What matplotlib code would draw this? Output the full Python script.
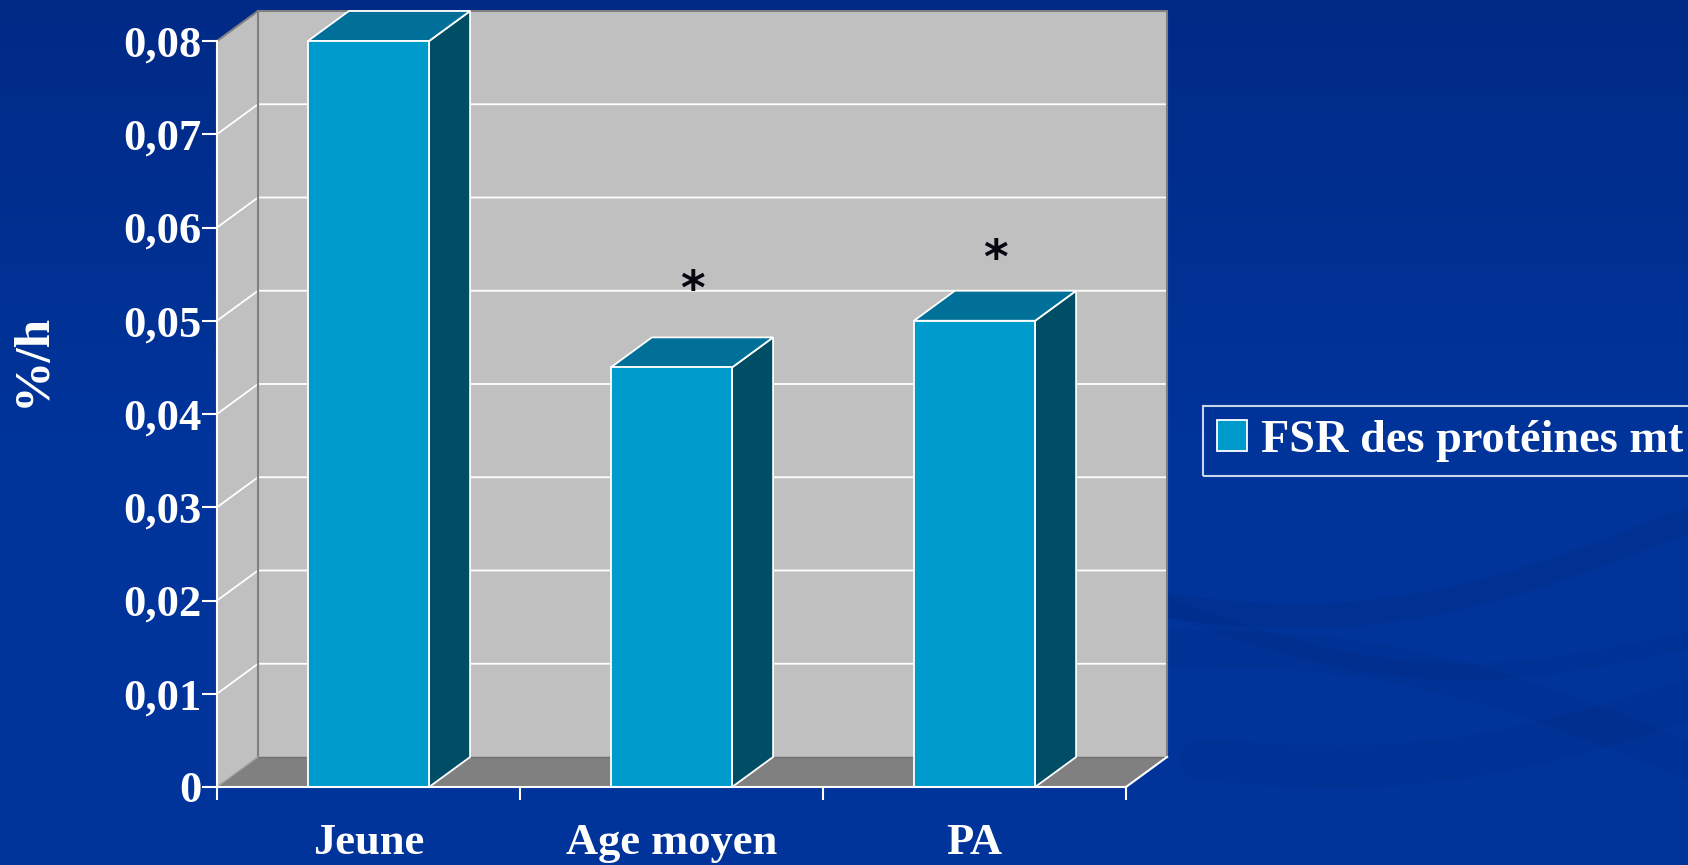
import matplotlib
matplotlib.use("Agg")
import matplotlib.pyplot as plt
from matplotlib.patches import Polygon, Rectangle, Patch
from matplotlib.colors import LinearSegmentedColormap
import numpy as np

# ---------------- data ----------------
categories = ["Jeune", "Age moyen", "PA"]
values = [0.080, 0.045, 0.050]
series_name = "FSR des protéines mt"
star_heights = [None, 0.054, 0.0574]   # position of the significance asterisks
y_ticks = [0.00, 0.01, 0.02, 0.03, 0.04, 0.05, 0.06, 0.07, 0.08]
y_tick_labels = ["0", "0,01", "0,02", "0,03", "0,04", "0,05", "0,06", "0,07", "0,08"]
y_label = "%/h"

# ---------------- style ----------------
W, H, DPI = 1688, 865, 100
BG = "#003399"
WALL = "#C0C0C0"
FLOOR = "#808080"
EDGE_GRAY = "#808080"
FRONT = "#009BCD"
TOP = "#007098"
SIDE = "#004E66"
FONT = "Liberation Serif"

fig = plt.figure(figsize=(W / DPI, H / DPI), dpi=DPI)
fig.patch.set_facecolor(BG)

# background decoration (subtle darker swirls)
bg = fig.add_axes([0, 0, 1, 1], zorder=0)
bg.set_xlim(0, W)
bg.set_ylim(H, 0)
bg.axis("off")
grad = np.linspace(0, 1, 200)[:, None]
cm = LinearSegmentedColormap.from_list("bgc", ["#002A86", "#00349B", "#00349B"])
bg.imshow(grad, extent=[0, W, H, 0], cmap=cm, aspect="auto", zorder=0)
t = np.linspace(0, 1, 200)
for (x0, y0, x1, y1, amp, lw, a) in [
    (1050, 585, 1688, 520, 60, 18, 0.35),
    (1100, 650, 1688, 760, -40, 26, 0.30),
    (1200, 760, 1688, 700, 30, 30, 0.30),
    (1150, 600, 1688, 640, 50, 12, 0.25),
]:
    xs = x0 + (x1 - x0) * t
    ys = y0 + (y1 - y0) * t + amp * np.sin(np.pi * t)
    bg.plot(xs, ys, color="#002B84", lw=lw, alpha=a, solid_capstyle="round", zorder=1)

# ---------------- main axes (front plane) ----------------
x_left, x_right = 217, 1126
y_bot, y_top = 787, 41
ax = fig.add_axes([x_left / W, (H - y_bot) / H, (x_right - x_left) / W, (y_bot - y_top) / H], zorder=2)
ax.set_facecolor("none")
n = len(categories)
ymax = y_ticks[-1]
ax.set_xlim(0, n)
ax.set_ylim(0, ymax)

# depth offset in data units (from pixel depth)
depth_px_x, depth_px_y = 41, 30
dx = depth_px_x / (x_right - x_left) * n
dy = depth_px_y / (y_bot - y_top) * ymax

# left wall
ax.add_patch(Polygon([(0, 0), (0, ymax), (dx, ymax + dy), (dx, dy)], closed=True,
                     facecolor=WALL, edgecolor="none", clip_on=False, zorder=1))
# back wall
ax.add_patch(Rectangle((dx, dy), n, ymax, facecolor=WALL, edgecolor="none", clip_on=False, zorder=1))
# floor
ax.add_patch(Polygon([(0, 0), (n, 0), (n + dx, dy), (dx, dy)], closed=True,
                     facecolor=FLOOR, edgecolor="none", clip_on=False, zorder=1))

# gridlines
for tv in y_ticks[1:-1]:
    ax.plot([0, dx, n + dx], [tv, tv + dy, tv + dy], color="white", lw=1.3, clip_on=False, zorder=2)
# wall edges
ax.plot([0, dx, n + dx, n + dx], [ymax, ymax + dy, ymax + dy, dy], color=EDGE_GRAY, lw=1.5,
        clip_on=False, zorder=2)
ax.plot([dx, dx], [dy, ymax + dy], color=EDGE_GRAY, lw=1.5, clip_on=False, zorder=2)
ax.plot([dx, n + dx], [dy, dy], color="#707070", lw=1.0, clip_on=False, zorder=2)
ax.plot([0, dx], [0, dy], color="#A0A0A0", lw=1.0, clip_on=False, zorder=2)
ax.plot([n, n + dx], [0, dy], color="white", lw=1.5, clip_on=False, zorder=2)

# bars
bw = 0.40
for i, v in enumerate(values):
    xc = i + 0.5
    xl, xr = xc - bw / 2, xc + bw / 2
    ax.add_patch(Polygon([(xr, 0), (xr + dx, dy), (xr + dx, v + dy), (xr, v)], closed=True,
                         facecolor=SIDE, edgecolor="white", lw=1.3, clip_on=False, zorder=3))
    ax.add_patch(Polygon([(xl, v), (xr, v), (xr + dx, v + dy), (xl + dx, v + dy)], closed=True,
                         facecolor=TOP, edgecolor="white", lw=1.3, clip_on=False, zorder=3))
    ax.add_patch(Rectangle((xl, 0), bw, v, facecolor=FRONT, edgecolor="white", lw=1.3,
                           clip_on=False, zorder=4))
    if star_heights[i] is not None:
        ax.annotate("*", xy=(xc + dx / 2, star_heights[i]), xytext=(0, -6),
                    textcoords="offset points", ha="center", va="center",
                    fontsize=34, fontweight="bold", color="#050510", family="DejaVu Sans", zorder=5)

# spines / ticks
for s in ["top", "right"]:
    ax.spines[s].set_visible(False)
for s in ["left", "bottom"]:
    ax.spines[s].set_color("white")
    ax.spines[s].set_linewidth(1.5)
    ax.spines[s].set_zorder(5)

ax.set_yticks(y_ticks)
ax.set_yticklabels(y_tick_labels)
ax.tick_params(axis="y", colors="white", length=11, width=1.5, pad=0, labelsize=32)
for lab in ax.get_yticklabels():
    lab.set_family(FONT)
    lab.set_fontweight("bold")

ax.set_xticks(list(range(n + 1)))
ax.set_xticklabels([""] * (n + 1))
ax.tick_params(axis="x", which="major", colors="white", length=9, width=1.5)
ax.set_xticks([i + 0.5 for i in range(n)], minor=True)
ax.set_xticklabels(categories, minor=True)
ax.tick_params(axis="x", which="minor", length=0, pad=26, labelsize=32, colors="white")
for lab in ax.get_xticklabels(minor=True):
    lab.set_family(FONT)
    lab.set_fontweight("bold")

fig.text(33 / W, 1 - 360 / H, y_label, rotation=90, ha="center", va="center", color="white",
         fontsize=37, fontweight="bold", family=FONT)

# legend
leg = fig.legend(handles=[Patch(facecolor=FRONT, edgecolor="white", lw=1.3, label=series_name)],
                 loc="upper left", bbox_to_anchor=(1203 / W, 1 - 406 / H),
                 prop={"family": FONT, "weight": "bold", "size": 33.3},
                 frameon=True, fancybox=False, handlelength=0.66, handleheight=0.66,
                 handletextpad=0.3, borderpad=0.3, borderaxespad=0)
leg.get_frame().set_facecolor("none")
leg.get_frame().set_edgecolor("white")
leg.get_frame().set_linewidth(1.5)
for txt in leg.get_texts():
    txt.set_color("white")

fig.savefig("out.png", dpi=DPI, facecolor=fig.get_facecolor())
